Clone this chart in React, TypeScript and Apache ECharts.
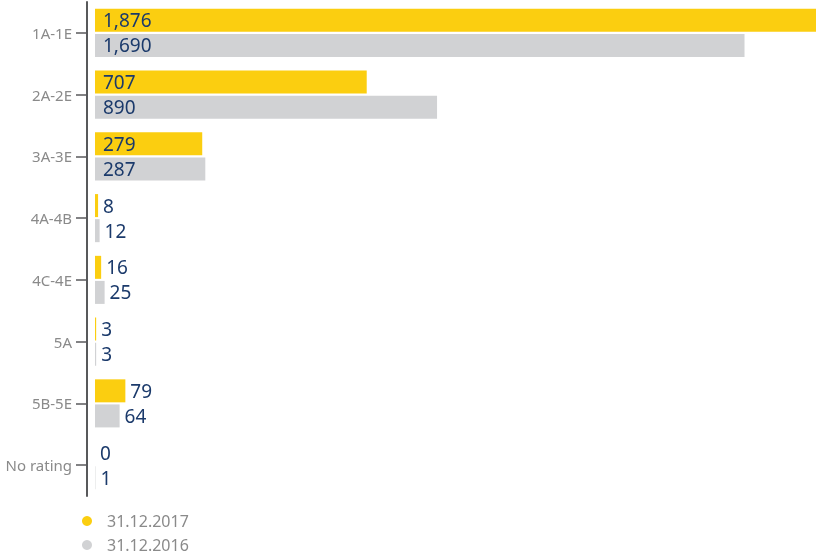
import React, { useEffect, useRef } from "react";
import * as echarts from "echarts";

const categories = ["1A-1E", "2A-2E", "3A-3E", "4A-4B", "4C-4E", "5A", "5B-5E", "No rating"];
const values2017 = [1876, 707, 279, 8, 16, 3, 79, 0];
const values2016 = [1690, 890, 287, 12, 25, 3, 64, 1];
const seriesNames = ["31.12.2017", "31.12.2016"];

const YELLOW = "#FBCE10";
const GRAY = "#D1D2D4";
const LABEL = "#1B3A6B";
const AXIS = "#58595B";
const TEXT = "#8A8A8A";
const FONT = "'Noto Sans', sans-serif";

function buildData(vals: number[]) {
  return vals.map((v) => ({
    value: v,
    label: v >= 200
      ? { position: "insideLeft", distance: 8 }
      : { position: "right", distance: 5 },
  }));
}

export default function App() {
  const ref = useRef<HTMLDivElement>(null);
  useEffect(() => {
    if (!ref.current) return;
    const chart = echarts.init(ref.current, null, { renderer: "svg" });
    const labelStyle = {
      show: true,
      color: LABEL,
      fontSize: 19,
      fontFamily: FONT,
      formatter: (p: any) => Number(p.value).toLocaleString("en-US"),
    };
    chart.setOption({
      animation: false,
      grid: { left: 95, right: 0, top: 2, height: 494, containLabel: false },
      legend: {
        orient: "vertical",
        left: 82,
        top: 513,
        padding: 0,
        icon: "circle",
        itemWidth: 10,
        itemHeight: 10,
        itemGap: 8,
        textStyle: { color: TEXT, fontSize: 16, lineHeight: 16, fontFamily: FONT, padding: [0, 0, 0, 10] },
        data: seriesNames,
      },
      xAxis: {
        type: "value",
        min: 0,
        max: 1876,
        show: false,
        splitLine: { show: false },
      },
      yAxis: {
        type: "category",
        data: categories,
        inverse: true,
        offset: 8,
        axisLine: { show: true, onZero: false, lineStyle: { color: AXIS, width: 2 } },
        axisTick: { show: true, length: 11, alignWithLabel: true, lineStyle: { color: AXIS, width: 1.5 } },
        axisLabel: { color: TEXT, fontSize: 15, fontFamily: FONT, margin: 15 },
      },
      series: [
        {
          name: seriesNames[0],
          type: "bar",
          data: buildData(values2017),
          itemStyle: { color: YELLOW },
          barWidth: 23,
          barGap: "9%",
          label: labelStyle,
        },
        {
          name: seriesNames[1],
          type: "bar",
          data: buildData(values2016),
          itemStyle: { color: GRAY },
          barWidth: 23,
          barGap: "9%",
          label: labelStyle,
        },
      ],
    });
    return () => chart.dispose();
  }, []);
  return <div ref={ref} style={{ position: "fixed", left: 0, top: 0, width: 816, height: 556 }} />;
}
